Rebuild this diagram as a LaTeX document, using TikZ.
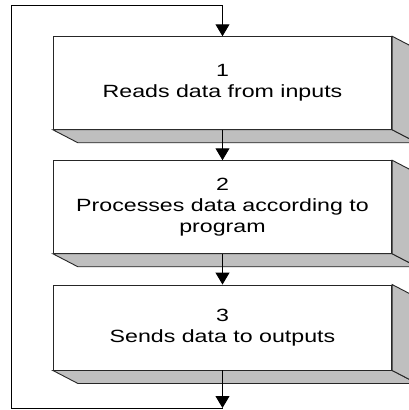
\documentclass[tikz,border=0pt]{standalone}
\usepackage{fontspec}
\setmainfont{Liberation Sans}[FakeStretch=1.31]
\usetikzlibrary{arrows.meta,calc}
\begin{document}
\begin{tikzpicture}[x=1bp,y=-1bp,
  frontbox/.style={draw=black!85,line width=0.9bp,fill=white,rectangle,inner sep=0pt,
    minimum width=338.4bp,align=center,
    font=\fontsize{17.7bp}{21.3bp}\selectfont},
  sideface/.style={draw=black!85,line width=0.9bp,fill=black!25},
  flow/.style={draw=black,line width=1bp},
  tip/.style={-{Triangle[width=14bp,length=12bp]}}]
\useasboundingbox (0,0) rectangle (409,410);
\clip (0,0) rectangle (409,410);
\fill[white] (0,0) rectangle (409,410);
% boxes (front faces)
\node[frontbox,minimum height=92.6bp] (b1) at (222.5,83) {1\\Reads data from inputs};
\node[frontbox,minimum height=92.6bp] (b2) at (222.5,207) {2\\Processes data according to\\program};
\node[frontbox,minimum height=85bp] (b3) at (222.5,327.5) {3\\Sends data to outputs};
% 3D faces
\foreach \b in {b1,b2,b3}{
  \draw[sideface] (\b.south west) -- ($(\b.south west)+(25,13)$) -- ($(\b.south east)+(25,13)$) -- (\b.south east) -- cycle;
  \draw[sideface] (\b.north east) -- ($(\b.north east)+(25,13)$) -- ($(\b.south east)+(25,13)$) -- (\b.south east) -- cycle;
}
% loop coordinates
\coordinate (lt) at (11,5.3);
\coordinate (lb) at (11,408);
\coordinate (rb) at (222.5,408);
% connectors
\draw[flow,tip] (b1.south) -- (b2.north);
\draw[flow,tip] (b2.south) -- (b3.north);
\draw[flow,tip] (b3.south) -- (rb);
\draw[flow,tip,line join=miter] (rb) -- (lb) -- (lt) -| (b1.north);
\end{tikzpicture}
\end{document}
